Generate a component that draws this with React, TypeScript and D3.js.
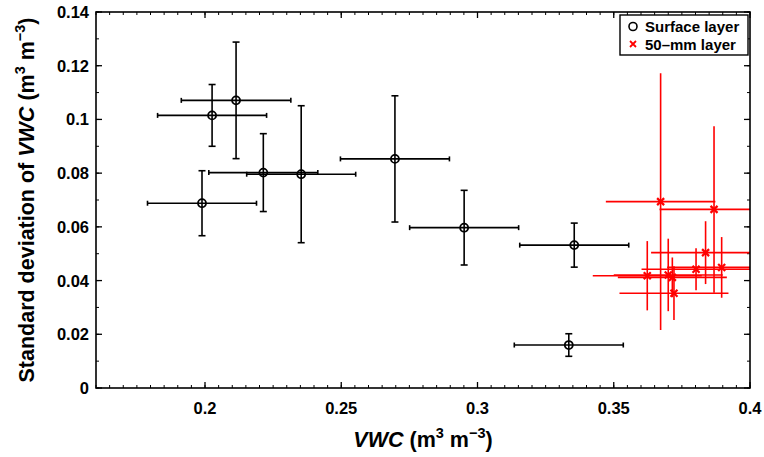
import React from 'react';
import * as d3 from 'd3';

// Surface layer (black circles)
const surfaceVWC = [0.2026, 0.2114, 0.2214, 0.2353, 0.1989, 0.2697, 0.2951, 0.3355, 0.3335];
const surfaceSD = [0.1015, 0.1071, 0.0802, 0.0796, 0.0688, 0.0853, 0.0597, 0.0532, 0.016];
const surfaceVWCErr = [0.02, 0.0201, 0.02, 0.02, 0.02, 0.02, 0.02, 0.02, 0.02];
const surfaceSDErr = [0.0115, 0.0217, 0.0145, 0.0255, 0.0121, 0.0235, 0.0139, 0.0082, 0.0042];

// 50-mm layer (red crosses)
const layerVWC = [0.3672, 0.3868, 0.3837, 0.3896, 0.3802, 0.3623, 0.37, 0.3715, 0.3721];
const layerSD = [0.0694, 0.0665, 0.0504, 0.0449, 0.0442, 0.0418, 0.0421, 0.0412, 0.0353];
const layerVWCErr = [0.0201, 0.02, 0.02, 0.02, 0.02, 0.02, 0.02, 0.02, 0.02];
const layerSDErr = [0.0478, 0.031, 0.0117, 0.0113, 0.0078, 0.0129, 0.0135, 0.0074, 0.01];

const xTicks = [0.2, 0.25, 0.3, 0.35, 0.4];
const yTicks = [0, 0.02, 0.04, 0.06, 0.08, 0.1, 0.12, 0.14];

const W = 764;
const H = 457;
const left = 96;
const right = 750;
const top = 12;
const bottom = 388;
const font = '"Liberation Sans", Arial, Helvetica, sans-serif';

const x = d3.scaleLinear().domain([0.16, 0.4]).range([left, right]);
const y = d3.scaleLinear().domain([0, 0.14]).range([bottom, top]);
const fmt = (v: number) => String(+v.toFixed(3));

const App = () => {
  const surface = surfaceVWC.map((v, i) => ({ x: v, y: surfaceSD[i], ex: surfaceVWCErr[i], ey: surfaceSDErr[i] }));
  const layer = layerVWC.map((v, i) => ({ x: v, y: layerSD[i], ex: layerVWCErr[i], ey: layerSDErr[i] }));

  const xMinor = d3.range(0, 49).map((i) => 0.16 + i * 0.005);
  const yMinor = d3.range(0, 15).map((i) => i * 0.01);

  const cap = 3.5;

  return (
    <svg width={W} height={H} style={{ position: 'absolute', left: 0, top: 0, background: '#fff' }} fontFamily={font}>
      <defs>
        <clipPath id="plot">
          <rect x={left} y={top} width={right - left} height={bottom - top} />
        </clipPath>
      </defs>

      {/* minor ticks */}
      <g stroke="#000" strokeWidth={1}>
        {xMinor.map((t, i) => (
          <g key={'xm' + i}>
            <line x1={x(t)} x2={x(t)} y1={bottom} y2={bottom - 3} />
            <line x1={x(t)} x2={x(t)} y1={top} y2={top + 3} />
          </g>
        ))}
        {yMinor.map((t, i) => (
          <g key={'ym' + i}>
            <line x1={left} x2={left + 3} y1={y(t)} y2={y(t)} />
            <line x1={right} x2={right - 3} y1={y(t)} y2={y(t)} />
          </g>
        ))}
      </g>
      {/* major ticks */}
      <g stroke="#000" strokeWidth={1.3}>
        {xTicks.map((t) => (
          <g key={'x' + t}>
            <line x1={x(t)} x2={x(t)} y1={bottom} y2={bottom - 6} />
            <line x1={x(t)} x2={x(t)} y1={top} y2={top + 6} />
          </g>
        ))}
        {yTicks.map((t) => (
          <g key={'y' + t}>
            <line x1={left} x2={left + 6} y1={y(t)} y2={y(t)} />
            <line x1={right} x2={right - 6} y1={y(t)} y2={y(t)} />
          </g>
        ))}
      </g>

      <g clipPath="url(#plot)">
        {/* surface layer error bars */}
        <g stroke="#000" strokeWidth={1.6} fill="none">
          {surface.map((d, i) => (
            <g key={'s' + i}>
              <line x1={x(d.x - d.ex)} x2={x(d.x + d.ex)} y1={y(d.y)} y2={y(d.y)} />
              <line x1={x(d.x - d.ex)} x2={x(d.x - d.ex)} y1={y(d.y) - cap + 1} y2={y(d.y) + cap - 1} />
              <line x1={x(d.x + d.ex)} x2={x(d.x + d.ex)} y1={y(d.y) - cap + 1} y2={y(d.y) + cap - 1} />
              <line x1={x(d.x)} x2={x(d.x)} y1={y(d.y - d.ey)} y2={y(d.y + d.ey)} />
              <line x1={x(d.x) - cap} x2={x(d.x) + cap} y1={y(d.y - d.ey)} y2={y(d.y - d.ey)} />
              <line x1={x(d.x) - cap} x2={x(d.x) + cap} y1={y(d.y + d.ey)} y2={y(d.y + d.ey)} />
              <circle cx={x(d.x)} cy={y(d.y)} r={4} strokeWidth={1.8} />
            </g>
          ))}
        </g>
        {/* 50-mm layer error bars */}
        <g stroke="#ff0000" strokeWidth={1.6} fill="none">
          {layer.map((d, i) => (
            <g key={'l' + i}>
              <line x1={x(d.x - d.ex)} x2={x(d.x + d.ex)} y1={y(d.y)} y2={y(d.y)} />
              <line x1={x(d.x)} x2={x(d.x)} y1={y(d.y - d.ey)} y2={y(d.y + d.ey)} />
              <path
                d={`M${x(d.x) - 3.5},${y(d.y) - 3.5}L${x(d.x) + 3.5},${y(d.y) + 3.5}M${x(d.x) - 3.5},${y(d.y) + 3.5}L${x(d.x) + 3.5},${y(d.y) - 3.5}`}
                strokeWidth={2.2}
              />
            </g>
          ))}
        </g>
      </g>

      {/* frame */}
      <rect x={left} y={top} width={right - left} height={bottom - top} fill="none" stroke="#000" strokeWidth={1.6} />

      {/* tick labels */}
      <g fontSize={16.5} fontWeight="bold" fill="#000">
        {xTicks.map((t) => (
          <text key={'xl' + t} x={x(t)} y={414} textAnchor="middle">
            {fmt(t)}
          </text>
        ))}
        {yTicks.map((t) => (
          <text key={'yl' + t} x={89} y={y(t) + 6} textAnchor="end">
            {fmt(t)}
          </text>
        ))}
      </g>

      {/* axis titles */}
      <text x={(left + right) / 2} y={447} textAnchor="middle" fontSize={21.5} fontWeight="bold">
        <tspan fontStyle="italic">VWC</tspan>
        <tspan> (m</tspan>
        <tspan fontSize={14.5} dy={-9}>3</tspan>
        <tspan dy={9}> m</tspan>
        <tspan fontSize={14.5} dy={-9}>−3</tspan>
        <tspan dy={9}>)</tspan>
      </text>
      <text transform={`translate(34,${(top + bottom) / 2}) rotate(-90)`} textAnchor="middle" fontSize={21.5} fontWeight="bold">
        <tspan>Standard deviation of </tspan>
        <tspan fontStyle="italic">VWC</tspan>
        <tspan> (m</tspan>
        <tspan fontSize={14.5} dy={-9}>3</tspan>
        <tspan dy={9}> m</tspan>
        <tspan fontSize={14.5} dy={-9}>−3</tspan>
        <tspan dy={9}>)</tspan>
      </text>

      {/* legend */}
      <g>
        <rect x={620} y={15} width={128} height={40} fill="#fff" stroke="#000" strokeWidth={1.4} />
        <circle cx={633} cy={26.5} r={4} fill="none" stroke="#000" strokeWidth={1.6} />
        <text x={645} y={32} fontSize={15} fontWeight="bold">Surface layer</text>
        <path d="M630,41L636,47M630,47L636,41" stroke="#ff0000" strokeWidth={1.8} />
        <text x={645} y={50} fontSize={15} fontWeight="bold">50–mm layer</text>
      </g>
    </svg>
  );
};

export default App;
